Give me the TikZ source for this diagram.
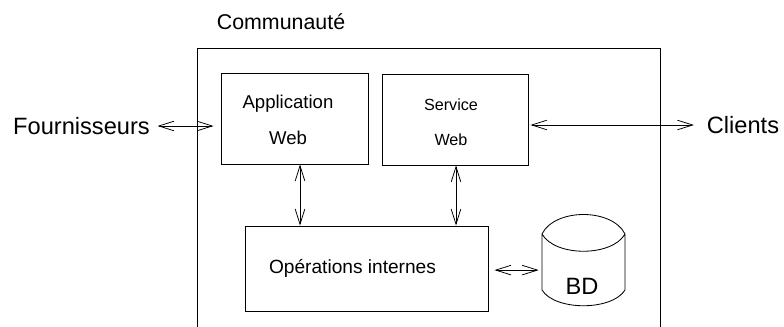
\documentclass[tikz,border=0pt]{standalone}
\usepackage{fontspec}
\setmainfont{Liberation Sans}
\usetikzlibrary{arrows.meta}

\tikzset{
  box/.style={draw, rectangle, line width=0.65pt, inner sep=0pt},
  biarrow/.style={{Straight Barb[length=0.38cm,width=0.24cm]}-{Straight Barb[length=0.38cm,width=0.24cm]}, line width=0.55pt},
  bigtext/.style={font=\fontsize{16.8}{20}\selectfont},
  titletext/.style={font=\fontsize{15.2}{18}\selectfont},
  apptext/.style={font=\fontsize{13.2}{25.6}\selectfont, align=center},
  servtext/.style={font=\fontsize{11.5}{24.9}\selectfont, align=center},
  optext/.style={font=\fontsize{13.6}{16}\selectfont}
}

\begin{document}
\begin{tikzpicture}[x=0.025cm,y=-0.025cm]
    \useasboundingbox (0,0) rectangle (784,327);

    \node[titletext] (communaute) at (281,22) {Communauté};
    \draw[line width=0.65pt] (197,328) -- (197,48) -- (660,48) -- (660,328);

    \node[box,minimum width=3.675cm,minimum height=2.275cm] (appweb) at (294.5,118.5) {};
    \node[apptext] (label_app) at (288,120) {Application\\Web};
    \node[box,minimum width=3.65cm,minimum height=2.275cm] (servweb) at (455,119.5) {};
    \node[servtext] (label_serv) at (451,122.5) {Service\\Web};
    \node[box,minimum width=6.075cm,minimum height=2.125cm] (ops) at (366.5,268.5) {};
    \node[optext] (label_ops) at (352.5,268) {Opérations internes};

    \node[bigtext] (fourn) at (81.5,126) {Fournisseurs};
    \node[bigtext] (clients) at (743,125) {Clients};

    % base de donnees
    \node[minimum width=2.075cm,minimum height=2.3cm,inner sep=0pt] (bd) at (583.5,260) {};
    \node[bigtext] (label_bd) at (582,286) {BD};
    \draw[line width=0.6pt] (542,234) .. controls (555,208) and (612,208) .. (625,234)
                            (542,234) .. controls (555,257) and (612,257) .. (625,234)
                            (542,234) -- (542,290)
                            (625,234) -- (625,290)
                            (542,290) .. controls (555,311) and (612,311) .. (625,290);

    \draw[biarrow,shorten <=0.07cm,shorten >=0.175cm] (fourn.east) -- (fourn.east -| appweb.west);
    \draw[biarrow,shorten <=0.05cm,shorten >=0.2cm] (servweb.east |- clients.west) -- (clients.west);
    \draw[biarrow] ([xshift=0.1375cm]appweb.south) -- ([xshift=0.1375cm]appweb.south |- ops.north);
    \draw[biarrow] ([xshift=0.025cm]servweb.south) -- ([xshift=0.025cm]servweb.south |- ops.north);
    \draw[biarrow,shorten <=0.15cm,shorten >=0.075cm] ([yshift=-0.04cm]ops.east) -- ([yshift=-0.04cm]ops.east -| bd.west);
\end{tikzpicture}
\end{document}
